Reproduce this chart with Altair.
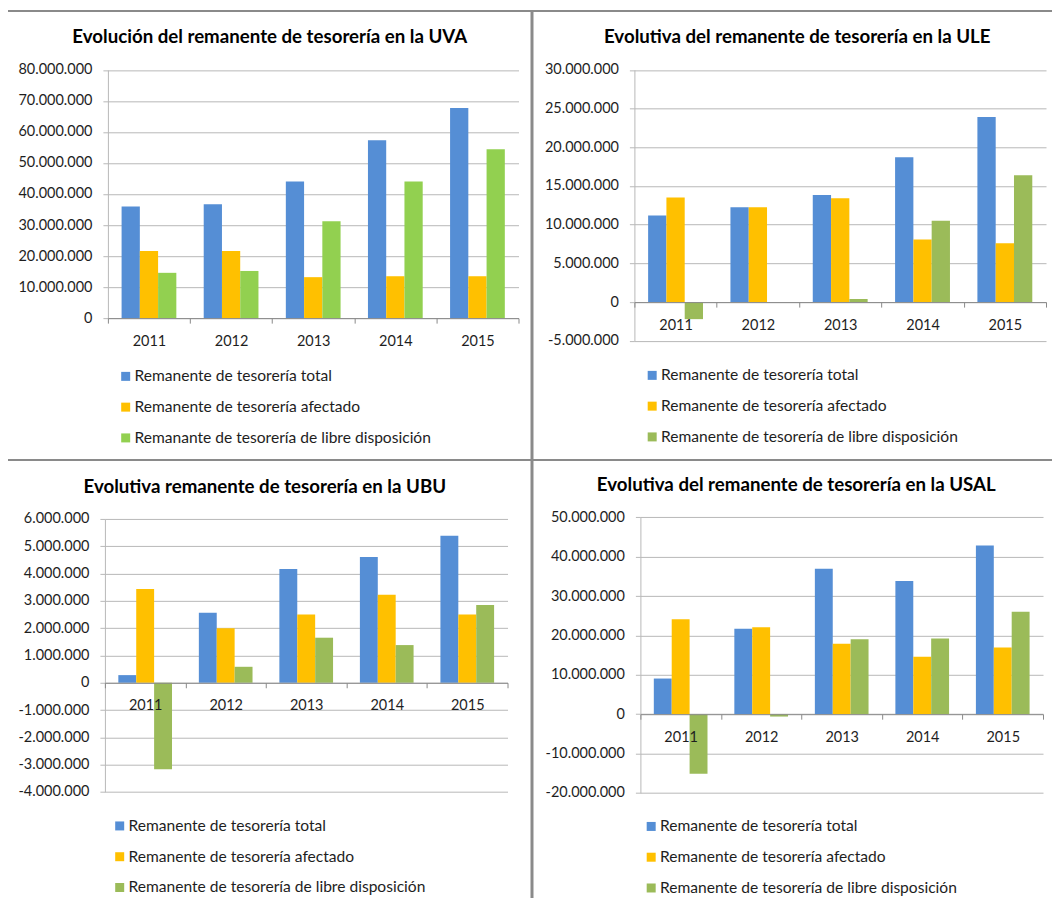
import altair as alt
import pandas as pd

# ---------------- data ----------------
years = ["2011", "2012", "2013", "2014", "2015"]

series_uva = ["Remanente de tesorería total",
              "Remanente de tesorería afectado",
              "Remanante de tesorería de libre disposición"]
series_std = ["Remanente de tesorería total",
              "Remanente de tesorería afectado",
              "Remanente de tesorería de libre disposición"]

uva_total = [36.0e6, 36.7e6, 44.0e6, 57.3e6, 67.7e6]
uva_afectado = [21.6e6, 21.6e6, 13.2e6, 13.5e6, 13.5e6]
uva_libre = [14.6e6, 15.2e6, 31.2e6, 44.0e6, 54.4e6]

ule_total = [11.2e6, 12.25e6, 13.85e6, 18.7e6, 23.9e6]
ule_afectado = [13.5e6, 12.25e6, 13.4e6, 8.1e6, 7.6e6]
ule_libre = [-2.2e6, 0.0, 0.4e6, 10.5e6, 16.4e6]

ubu_total = [0.28e6, 2.56e6, 4.17e6, 4.61e6, 5.38e6]
ubu_afectado = [3.43e6, 2.0e6, 2.5e6, 3.22e6, 2.5e6]
ubu_libre = [-3.17e6, 0.585e6, 1.65e6, 1.38e6, 2.85e6]

usal_total = [9.05e6, 21.7e6, 36.9e6, 33.8e6, 42.8e6]
usal_afectado = [24.1e6, 22.1e6, 17.9e6, 14.6e6, 16.9e6]
usal_libre = [-15.1e6, -0.6e6, 19.0e6, 19.2e6, 26.0e6]

titles = ["Evolución del remanente de tesorería en la UVA",
          "Evolutiva del remanente de tesorería en la ULE",
          "Evolutiva remanente de tesorería en la UBU",
          "Evolutiva del remanente de tesorería en la USAL"]

# y-axis tick values for each panel
ticks_uva = [0, 10e6, 20e6, 30e6, 40e6, 50e6, 60e6, 70e6, 80e6]
ticks_ule = [-5e6, 0, 5e6, 10e6, 15e6, 20e6, 25e6, 30e6]
ticks_ubu = [-4e6, -3e6, -2e6, -1e6, 0, 1e6, 2e6, 3e6, 4e6, 5e6, 6e6]
ticks_usal = [-20e6, -10e6, 0, 10e6, 20e6, 30e6, 40e6, 50e6]

# ---------------- style / layout ----------------
FONT = "Lato"
TEXT = "#1e1e1e"
GRID = "#b8b8b8"
AXIS = "#8a8a8a"
FRAME = "#8a8a8a"
BLUE, ORANGE = "#558ED5", "#FFC000"
GREEN1, GREEN2 = "#92D050", "#9BBB59"

PADL, PADT = 5, 5
OX, OY = 8 + PADL, 8 + PADT          # page position of chart origin
W, H = 1040, 885


def cx(v):
    return v - OX


def cy(v):
    return v - OY


def frame(series, vals):
    rows = []
    for s, arr in zip(series, vals):
        for yr, v in zip(years, arr):
            rows.append({"year": yr, "serie": s, "valor": v})
    return pd.DataFrame(rows)


panels = [
    dict(title=titles[0], series=series_uva,
         vals=[uva_total, uva_afectado, uva_libre],
         colors=[BLUE, ORANGE, GREEN1], dom=[0, 80e6], ticks=ticks_uva,
         px=(108, 519), py=(318, 69.5), tpos=(270, 37), leg=(118, 376)),
    dict(title=titles[1], series=series_std,
         vals=[ule_total, ule_afectado, ule_libre],
         colors=[BLUE, ORANGE, GREEN2], dom=[-5e6, 30e6], ticks=ticks_ule,
         px=(635, 1047), py=(340.7, 69.5), tpos=(798, 37), leg=(645, 375)),
    dict(title=titles[2], series=series_std,
         vals=[ubu_total, ubu_afectado, ubu_libre],
         colors=[BLUE, ORANGE, GREEN2], dom=[-4e6, 6e6], ticks=ticks_ubu,
         px=(105, 508), py=(792.3, 519), tpos=(265, 487), leg=(112, 826)),
    dict(title=titles[3], series=series_std,
         vals=[usal_total, usal_afectado, usal_libre],
         colors=[BLUE, ORANGE, GREEN2], dom=[-20e6, 50e6], ticks=ticks_usal,
         px=(641, 1044), py=(793.3, 517.3), tpos=(797, 485), leg=(644, 826.5)),
]

label_expr = ("replace(replace(format(datum.value, ','), regexp(',', 'g'), '.'), "
              "'\u2212', '-')")

layers = []
for p in panels:
    df = frame(p["series"], p["vals"])
    x0, x1 = cx(p["px"][0]), cx(p["px"][1])
    yb, yt = cy(p["py"][0]), cy(p["py"][1])
    lo, hi = p["dom"]
    y0 = yb + (0 - lo) / (hi - lo) * (yt - yb)
    bars = alt.Chart(df).mark_bar().encode(
        x=alt.X("year:N", sort=years,
                scale=alt.Scale(domain=years, range=[x0, x1],
                                paddingInner=0, paddingOuter=0),
                axis=alt.Axis(orient="bottom", offset=y0 - H, title=None,
                              labelAngle=0, tickBand="extent", grid=False,
                              domainColor=AXIS, tickColor=AXIS, tickSize=5,
                              labelPadding=11, labelFont=FONT,
                              labelFontSize=14.5, labelColor=TEXT, zindex=1)),
        xOffset=alt.XOffset("serie:N",
                            scale=alt.Scale(domain=p["series"],
                                            paddingInner=0, paddingOuter=0.75)),
        y=alt.Y("valor:Q",
                scale=alt.Scale(domain=[lo, hi], range=[yb, yt], nice=False),
                axis=alt.Axis(orient="left", offset=-x0, title=None,
                              values=p["ticks"], labelExpr=label_expr,
                              grid=True, gridColor=GRID, domainColor=GRID,
                              tickColor=GRID, tickSize=5, labelPadding=11,
                              labelFont=FONT, labelFontSize=14.5,
                              labelColor=TEXT)),
        color=alt.Color("serie:N",
                        scale=alt.Scale(domain=p["series"], range=p["colors"]),
                        legend=alt.Legend(orient="none",
                                          legendX=cx(p["leg"][0]),
                                          legendY=cy(p["leg"][1]) - 7.5,
                                          direction="vertical", title=None,
                                          symbolType="square", symbolSize=81,
                                          symbolStrokeWidth=0,
                                          labelFont=FONT, labelFontSize=15.6,
                                          labelColor=TEXT, labelOffset=1,
                                          rowPadding=13.8, labelLimit=0)),
    )
    layers.append(bars)

for p in panels:
    t = alt.Chart(pd.DataFrame({"t": [p["title"]]})).mark_text(
        font=FONT, fontSize=18.7, fontWeight="bold", color="#000000",
        align="center", baseline="middle").encode(
        x=alt.value(cx(p["tpos"][0])), y=alt.value(cy(p["tpos"][1])),
        text="t:N")
    layers.append(t)

# panel frames (decorative separators)
frames = [
    (6, 1060, 10.5, 10.5, 2),     # top edge
    (7, 7, 9.5, 904, 2),          # left edge
    (532.5, 532.5, 9.5, 904, 3),  # middle vertical
    (6, 1060, 460, 460, 2),       # middle horizontal
]
for (a, b, c, d, sw) in frames:
    r = alt.Chart(pd.DataFrame({"k": [0]})).mark_rule(
        color=FRAME, strokeWidth=sw).encode(
        x=alt.value(cx(a)), x2=alt.value(cx(b)),
        y=alt.value(cy(c)), y2=alt.value(cy(d)))
    layers.append(r)

chart = alt.layer(*layers).resolve_scale(
    x="independent", y="independent", xOffset="independent",
    color="independent").resolve_axis(
    x="independent", y="independent").resolve_legend(
    color="independent").properties(
    width=W, height=H, autosize=alt.AutoSizeParams(type="none"),
    padding={"left": PADL, "top": PADT, "right": 0, "bottom": 0},
    background="white").configure_view(stroke=None)

chart.save("out.html", embed_options={"renderer": "svg", "actions": False})
